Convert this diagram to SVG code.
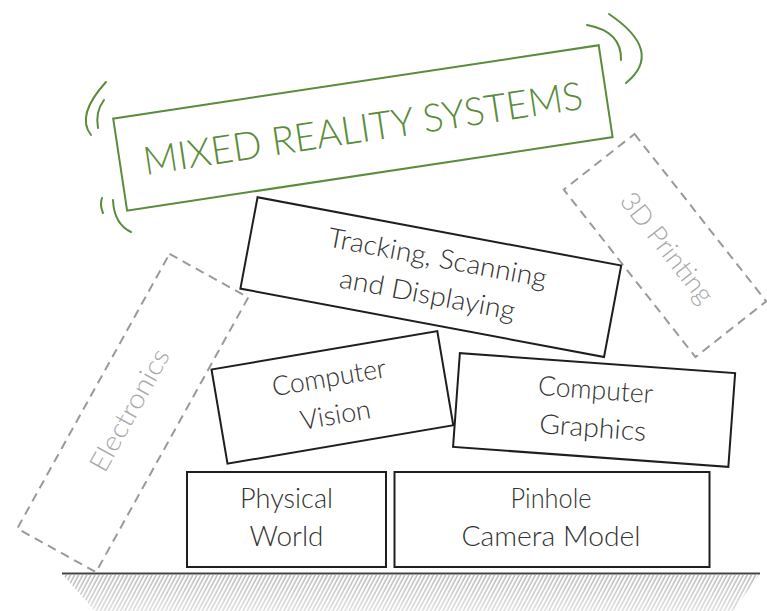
<svg xmlns="http://www.w3.org/2000/svg" width="767" height="611" viewBox="0 0 767 611">
<defs>
<pattern id="hatch" patternUnits="userSpaceOnUse" width="3.6" height="10" patternTransform="rotate(28)">
<line x1="1" y1="0" x2="1" y2="10" stroke="#8a8a8a" stroke-width="1"/>
</pattern>
<linearGradient id="fade" x1="0" y1="0" x2="0" y2="1">
<stop offset="0" stop-color="#fff" stop-opacity="1"/>
<stop offset="1" stop-color="#fff" stop-opacity="0.45"/>
</linearGradient>
<mask id="fadeMask" maskUnits="userSpaceOnUse" x="0" y="570" width="767" height="41">
<rect x="0" y="570" width="767" height="41" fill="url(#fade)"/>
</mask>
<style>
.box{fill:#fff;stroke:#1e1e1e;stroke-width:2}
.dash{fill:none;stroke:#9a9a9a;stroke-width:2;stroke-dasharray:9 6}
.green{fill:#fff;stroke:#5a8c3a;stroke-width:2}
.wave{fill:none;stroke:#5a8c3a;stroke-width:2;stroke-linecap:round}
text{font-family:Lato,"Open Sans","Liberation Sans",sans-serif;text-anchor:middle}
.t{font-size:27px;fill:#333;font-weight:300}
.g{font-size:27px;fill:#a8a8a8;font-weight:300}
.title{font-size:39px;fill:#5a8c3a;font-weight:300}
</style>
</defs>
<rect width="767" height="611" fill="#fff"/>

<g id="ground">
<polygon points="63,575 759,575 733,611 95,611" fill="url(#hatch)" mask="url(#fadeMask)"/>
<line x1="62" y1="573.5" x2="760" y2="573.5" stroke="#444" stroke-width="2.2"/>
</g>

<g id="electronics" transform="translate(132.75,413) rotate(29)">
<rect class="dash" x="-45" y="-157" width="90" height="314"/>
<text class="g" transform="rotate(-90)" x="1" y="5" textLength="136" lengthAdjust="spacingAndGlyphs">Electronics</text>
</g>

<g id="printing-3d" transform="translate(665,245.5) rotate(51.8)">
<rect class="dash" x="-106.5" y="-45" width="213" height="90"/>
<text class="g" x="3" y="9" textLength="133" lengthAdjust="spacingAndGlyphs">3D Printing</text>
</g>

<g id="physical-world">
<rect class="box" x="187" y="472" width="199" height="95"/>
<text class="t" x="286.5" y="508" textLength="93" lengthAdjust="spacingAndGlyphs">Physical</text>
<text class="t" x="286.5" y="546" textLength="74" lengthAdjust="spacingAndGlyphs">World</text>
</g>

<g id="pinhole-camera-model">
<rect class="box" x="394.5" y="472" width="315" height="95"/>
<text class="t" x="551" y="508" textLength="81" lengthAdjust="spacingAndGlyphs">Pinhole</text>
<text class="t" x="551" y="546" textLength="179" lengthAdjust="spacingAndGlyphs">Camera Model</text>
</g>

<g id="computer-vision" transform="translate(332.4,397.4) rotate(-9.64)">
<rect class="box" x="-114.5" y="-47.75" width="229" height="95.5"/>
<text class="t" x="0" y="-11" textLength="115" lengthAdjust="spacingAndGlyphs">Computer</text>
<text class="t" x="0" y="27" textLength="71" lengthAdjust="spacingAndGlyphs">Vision</text>
</g>

<g id="computer-graphics" transform="translate(594.1,410) rotate(4.15)">
<rect class="box" x="-138" y="-47" width="276" height="94"/>
<text class="t" x="0" y="-11" textLength="115" lengthAdjust="spacingAndGlyphs">Computer</text>
<text class="t" x="0" y="27" textLength="107" lengthAdjust="spacingAndGlyphs">Graphics</text>
</g>

<g id="tracking" transform="translate(430.8,277.1) rotate(10.64)">
<rect class="box" x="-185" y="-46.5" width="370" height="93"/>
<text class="t" x="3" y="-11" textLength="222" lengthAdjust="spacingAndGlyphs">Tracking, Scanning</text>
<text class="t" x="0" y="27" textLength="178" lengthAdjust="spacingAndGlyphs">and Displaying</text>
</g>

<g id="mixed-reality-systems">
<g transform="translate(362.9,127.9) rotate(-8.59)">
<rect class="green" x="-245.5" y="-46.5" width="491" height="93"/>
<text class="title" x="0" y="14" textLength="444" lengthAdjust="spacingAndGlyphs">MIXED REALITY SYSTEMS</text>
</g>
<path class="wave" d="M106,82 Q75.5,115.5 91,135"/>
<path class="wave" d="M104,100 Q95,112 98,128"/>
<path class="wave" d="M102,198 Q99.5,204.5 103,213"/>
<path class="wave" d="M113,200 Q114,224 131,232"/>
<path class="wave" d="M587,25 Q622,31.5 621,60"/>
<path class="wave" d="M609,14 Q664.5,51.5 626,83"/>
</g>

<g id="connectors"/>
</svg>
